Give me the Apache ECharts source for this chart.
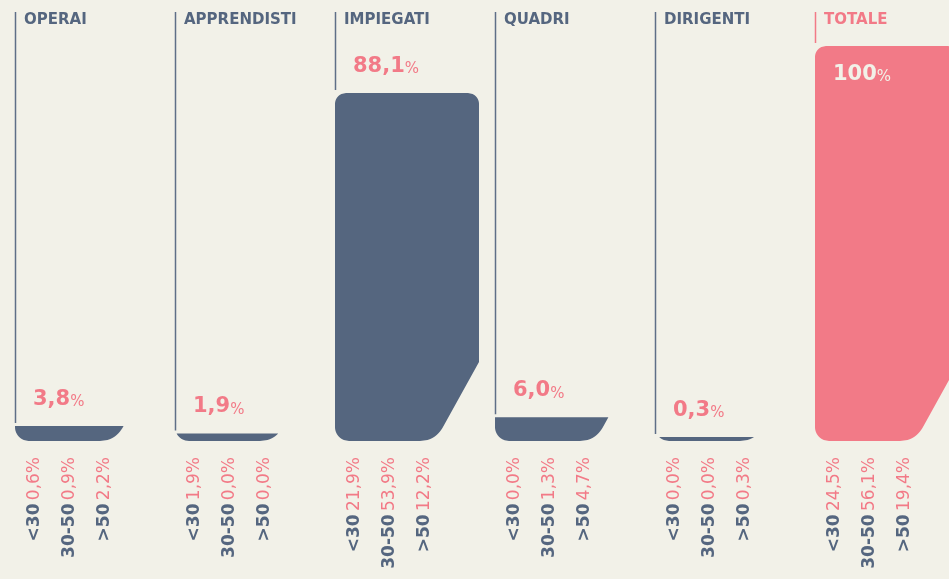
<!DOCTYPE html>
<html>
<head>
<meta charset="utf-8">
<script src="https://cdn.jsdelivr.net/npm/echarts@6/dist/echarts.min.js"></script>
<style>
  html, body { margin: 0; padding: 0; background: #f2f1e8; }
  #chart { width: 949px; height: 579px; }
</style>
</head>
<body>
<div id="chart"></div>
<script>
// categorie e percentuali
var categories = ['OPERAI', 'APPRENDISTI', 'IMPIEGATI', 'QUADRI', 'DIRIGENTI', 'TOTALE']
var totals = [3.8, 1.9, 88.1, 6.0, 0.3, 100]
var ageGroups = ['<30', '30-50', '>50']
var under30 = [0.6, 1.9, 21.9, 0.0, 0.0, 24.5]
var from30to50 = [0.9, 0.0, 53.9, 1.3, 0.0, 56.1]
var over50 = [2.2, 0.0, 12.2, 4.7, 0.3, 19.4]

var SLATE = '#55667f'
var PINK = '#f27a87'
var CREAM = '#f2f1e8'
var FONT = 'DejaVu Sans'

function fmt(v) {
  return v === 100 ? '100' : v.toFixed(1).replace('.', ',')
}

// profilo del lato destro della barra (angolo tagliato in basso a destra)
function rightEdge(d) {
  if (d < 14) {
    var t = Math.sqrt(d / 14)
    return (1 - t) * (1 - t) * 85 + 2 * t * (1 - t) * 100 + t * t * 108
  }
  if (d < 79) return 108 + 36 * (d - 14) / 65
  return 144
}

function barPoints(x0, yb, h) {
  var r = 14
  var rt = h > 40 ? 11 : 0
  var pts = []
  var d, k
  function topCut(d) {
    if (!rt || d <= h - rt) return 0
    var q = d - (h - rt)
    return rt - Math.sqrt(rt * rt - q * q)
  }
  for (d = 0; d <= h; d += 1) {
    pts.push([x0 + rightEdge(d) - topCut(d), yb - d])
  }
  pts.push([x0 + rightEdge(h) - topCut(h), yb - h])
  for (d = h; d >= 0; d -= 1) {
    k = 0
    if (d < r) k = r - Math.sqrt(r * r - (r - d) * (r - d))
    pts.push([x0 + k + topCut(d), yb - d])
  }
  pts.push([x0 + r, yb])
  return pts
}

function renderItem(params, api) {
  var i = params.dataIndex
  var isTot = i === categories.length - 1
  var color = isTot ? PINK : SLATE
  var base = api.coord([api.value(0), 0])
  var top = api.coord([api.value(0), api.value(1)])
  var band = api.size([1, 0])[0]
  var x0 = Math.round(base[0] - band / 2)
  var yb = base[1]
  var h = Math.max(4, yb - top[1])
  var yt = yb - h
  var children = []

  children.push({
    type: 'polygon',
    shape: { points: barPoints(x0, yb, h) },
    style: { fill: color }
  })
  children.push({
    type: 'line',
    shape: { x1: x0 + 0.5, y1: 12, x2: x0 + 0.5, y2: yt - 3 },
    style: { stroke: isTot ? PINK : '#5f6f87', lineWidth: 1.5 }
  })
  children.push({
    type: 'text',
    x: x0 + 9,
    y: 20,
    style: {
      text: categories[i],
      fill: color,
      font: 'bold 15px "' + FONT + '"',
      align: 'left',
      verticalAlign: 'middle'
    }
  })

  var inside = yt - 27 < 45
  var lblColor = inside ? CREAM : PINK
  children.push({
    type: 'text',
    x: x0 + 18,
    y: inside ? yt + 27 : yt - 28,
    style: {
      text: '{v|' + fmt(api.value(1)) + '}{p|%}',
      align: 'left',
      verticalAlign: 'middle',
      rich: {
        v: { fontFamily: FONT, fontSize: 21, fontWeight: 'bold', fill: lblColor, lineHeight: 24, verticalAlign: 'bottom' },
        p: { fontFamily: FONT, fontSize: 15, fill: lblColor, lineHeight: 22, verticalAlign: 'bottom' }
      }
    }
  })

  var groups = [under30[i], from30to50[i], over50[i]]
  for (var g = 0; g < ageGroups.length; g++) {
    children.push({
      type: 'text',
      x: x0 + 20 + g * 35,
      y: 457,
      rotation: Math.PI / 2,
      style: {
        text: '{a|' + ageGroups[g] + '} {b|' + fmt(groups[g]) + '%}',
        align: 'right',
        verticalAlign: 'middle',
        rich: {
          a: { fontFamily: FONT, fontSize: 17, fontWeight: 'bold', fill: SLATE },
          b: { fontFamily: FONT, fontSize: 17, fill: PINK }
        }
      }
    })
  }

  return { type: 'group', children: children }
}

var chart = echarts.init(document.getElementById('chart'))
chart.setOption({
  backgroundColor: CREAM,
  animation: false,
  grid: { left: 14.5, width: 960, top: 46, bottom: 138, outerBoundsMode: 'none' },
  xAxis: { type: 'category', data: categories, show: false },
  yAxis: { type: 'value', min: 0, max: 100, show: false },
  series: [{
    type: 'custom',
    clip: false,
    renderItem: renderItem,
    data: totals.map(function(v, i) { return [i, v] })
  }]
})
</script>
</body>
</html>
